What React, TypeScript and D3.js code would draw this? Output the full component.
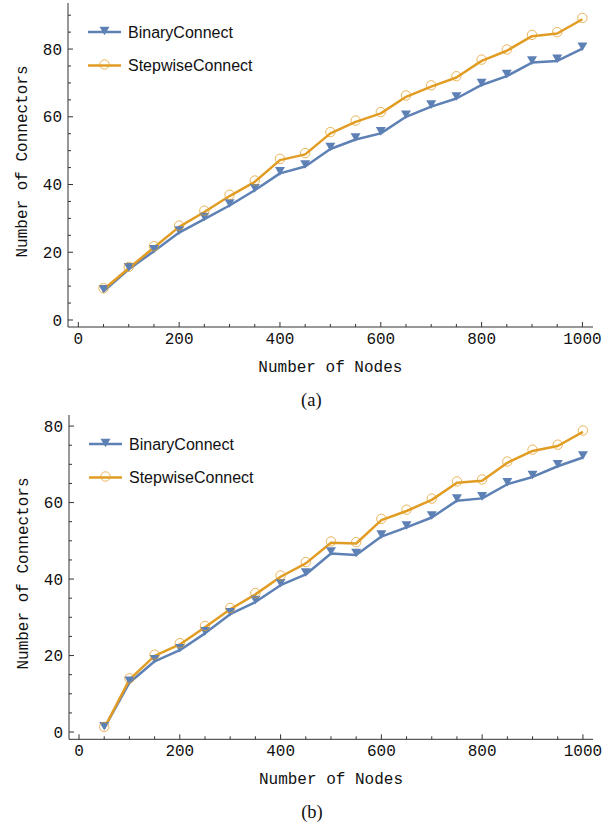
import React from "react";
import * as d3 from "d3";

// number of nodes on the x axis
const nodes = [50, 100, 150, 200, 250, 300, 350, 400, 450, 500, 550, 600, 650, 700, 750, 800, 850, 900, 950, 1000];

// panel (a)
const binaryA = [8.5, 15.0, 20.3, 25.8, 29.8, 33.8, 38.3, 43.3, 45.3, 50.5, 53.3, 55.1, 60.0, 63.0, 65.4, 69.4, 72.0, 76.0, 76.5, 80.1];
const stepwiseA = [9.0, 15.3, 21.4, 27.5, 31.9, 36.6, 40.8, 47.2, 48.9, 55.1, 58.5, 61.0, 65.9, 68.9, 71.6, 76.5, 79.5, 83.8, 84.6, 88.8];

// panel (b)
const binaryB = [1.0, 12.9, 18.5, 21.4, 25.8, 30.8, 34.0, 38.4, 41.2, 46.7, 46.3, 51.1, 53.5, 56.1, 60.5, 61.1, 64.8, 66.7, 69.5, 71.8];
const stepwiseB = [1.0, 13.7, 19.9, 22.9, 27.4, 32.1, 36.0, 40.6, 44.1, 49.5, 49.3, 55.4, 57.8, 60.7, 65.2, 65.7, 70.4, 73.5, 74.8, 78.5];

const xTicks = [0, 200, 400, 600, 800, 1000];
const yTicks = [0, 20, 40, 60, 80];
const seriesNames = ["BinaryConnect", "StepwiseConnect"];
const captions = ["(a)", "(b)"];

const BLUE = "#5E81B5";
const ORANGE = "#E19C24";
const AXIS = "#333";
const MONO = "'Liberation Mono', 'Courier New', monospace";

type PanelProps = {
  binary: number[];
  stepwise: number[];
  caption: string;
  xDomain: [number, number];
  xRange: [number, number];
  yDomain: [number, number];
  yRange: [number, number];
};

function triangle(cx: number, cy: number) {
  const w = 5, h = 4.3;
  return `M${cx - w},${cy - h}L${cx + w},${cy - h}L${cx},${cy + h}Z`;
}

function Panel({ binary, stepwise, caption, xDomain, xRange, yDomain, yRange }: PanelProps) {
  const x = d3.scaleLinear().domain(xDomain).range(xRange);
  const y = d3.scaleLinear().domain(yDomain).range(yRange);
  const x0 = xRange[0];
  const yBase = yRange[0];

  const line = d3
    .line<number>()
    .x((_, i) => x(nodes[i]))
    .y((d) => y(d));

  const xMinor = d3.range(0, 1001, 50).filter((v) => v % 200 !== 0);
  const yMinor = d3.range(0, yDomain[1], 5).filter((v) => v % 20 !== 0);
  const midX = (x(0) + x(1000)) / 2;
  const midY = (y(0) + yRange[1]) / 2;

  const legendY0 = yRange[1] + 29;
  const legendGap = 33.5;

  return (
    <g>
      {/* axes */}
      <line x1={x0} x2={xRange[1]} y1={yBase} y2={yBase} stroke={AXIS} strokeWidth={1} />
      <line x1={x0} x2={x0} y1={yBase} y2={yRange[1]} stroke={AXIS} strokeWidth={1} />
      {xTicks.map((t) => (
        <g key={"xt" + t}>
          <line x1={x(t)} x2={x(t)} y1={yBase} y2={yBase - 5} stroke={AXIS} />
          <text x={x(t)} y={yBase + 17} textAnchor="middle" fontFamily={MONO} fontSize={16} fill="#111">
            {t}
          </text>
        </g>
      ))}
      {xMinor.map((t) => (
        <line key={"xm" + t} x1={x(t)} x2={x(t)} y1={yBase} y2={yBase - 3} stroke={AXIS} />
      ))}
      {yTicks.map((t) => (
        <g key={"yt" + t}>
          <line x1={x0} x2={x0 + 5} y1={y(t)} y2={y(t)} stroke={AXIS} />
          <text x={x0 - 6} y={y(t)} dy="0.35em" textAnchor="end" fontFamily={MONO} fontSize={16} fill="#111">
            {t}
          </text>
        </g>
      ))}
      {yMinor.map((t) => (
        <line key={"ym" + t} x1={x0} x2={x0 + 3} y1={y(t)} y2={y(t)} stroke={AXIS} />
      ))}
      <text x={midX} y={yBase + 45} textAnchor="middle" fontFamily={MONO} fontSize={16} fill="#111">
        Number of Nodes
      </text>
      <text
        transform={`translate(${x0 - 41},${midY}) rotate(-90)`}
        textAnchor="middle"
        fontFamily={MONO}
        fontSize={16}
        fill="#111"
      >
        Number of Connectors
      </text>
      <text x={midX - 19} y={yBase + 79} textAnchor="middle" fontFamily="'Liberation Serif', serif" fontSize={18.5} fill="#111">
        {caption}
      </text>

      {/* series */}
      <path d={line(binary) || ""} fill="none" stroke={BLUE} strokeWidth={2.5} strokeLinejoin="round" />
      <path d={line(stepwise) || ""} fill="none" stroke={ORANGE} strokeWidth={2.5} strokeLinejoin="round" />
      {binary.map((v, i) => (
        <path key={"b" + i} d={triangle(x(nodes[i]), y(v) - 2)} fill={BLUE} />
      ))}
      {stepwise.map((v, i) => (
        <circle key={"s" + i} cx={x(nodes[i])} cy={y(v) - 1.3} r={4.7} fill="none" stroke={ORANGE} strokeOpacity={0.75} strokeWidth={1} />
      ))}

      {/* legend */}
      {seriesNames.map((name, i) => {
        const ly = legendY0 + i * legendGap;
        const lx = x0 + 20;
        return (
          <g key={name}>
            <line x1={lx} x2={lx + 33} y1={ly} y2={ly} stroke={i === 0 ? BLUE : ORANGE} strokeWidth={2.5} />
            {i === 0 ? (
              <path d={triangle(lx + 16.5, ly - 1)} fill={BLUE} />
            ) : (
              <circle cx={lx + 16.5} cy={ly - 1} r={4.7} fill="none" stroke={ORANGE} strokeOpacity={0.75} />
            )}
            <text x={lx + 40} y={ly + 5.5} fontFamily="'Liberation Sans', Arial, sans-serif" fontSize={16} fill="#111">
              {name}
            </text>
          </g>
        );
      })}
    </g>
  );
}

export default function App() {
  return (
    <svg
      width={610}
      height={827}
      style={{ position: "absolute", left: 0, top: 0, background: "#fff" }}
    >
      <Panel
        binary={binaryA}
        stepwise={stepwiseA}
        caption={captions[0]}
        xDomain={[-20.5, 1021]}
        xRange={[68, 593]}
        yDomain={[-2.07, 93.6]}
        yRange={[327, 3]}
      />
      <Panel
        binary={binaryB}
        stepwise={stepwiseB}
        caption={captions[1]}
        xDomain={[-19.9, 1020]}
        xRange={[69, 593]}
        yDomain={[-1.9, 82.9]}
        yRange={[739.3, 415]}
      />
    </svg>
  );
}
